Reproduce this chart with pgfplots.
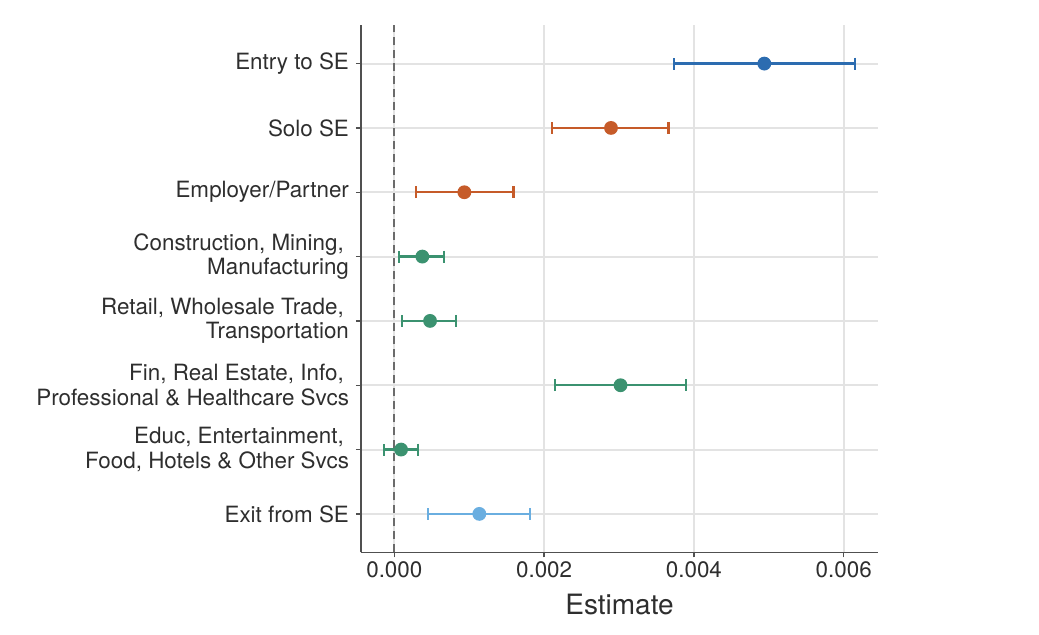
\documentclass[border=0pt]{standalone}
\usepackage{pgfplots}
\pgfplotsset{compat=1.18}
\usepackage{pgfplotstable}
\usepackage{fontspec}
\setmainfont{TeX Gyre Heros}
\definecolor{cblue}{HTML}{2C6CB0}
\definecolor{corange}{HTML}{C65B29}
\definecolor{cgreen}{HTML}{3B9270}
\definecolor{clblue}{HTML}{6AAEE0}
\definecolor{gridc}{HTML}{E3E3E3}
\definecolor{axc}{HTML}{505050}
\definecolor{txt}{HTML}{2E2E2E}

% pos est lo hi
\pgfplotstableread{
pos est lo hi
8 0.00494 0.00373 0.006155
}\entry
\pgfplotstableread{
pos est lo hi
7 0.002893 0.00211 0.00366
6 0.000935 0.000285 0.00159
}\orng
\pgfplotstableread{
pos est lo hi
5 0.000374 0.000067 0.00066
4 0.000477 0.000103 0.000828
3 0.00302 0.00214 0.003895
2 0.00009 -0.00014 0.000316
}\grn
\pgfplotstableread{
pos est lo hi
1 0.001135 0.000454 0.00181
}\exitt

\pgfplotsset{ci/.style={only marks, mark=*, mark size=2.9pt, line width=1.1pt,
  error bars/.cd, x dir=both, x explicit, error bar style={line width=1.1pt}, error mark=|, error mark options={mark size=3pt, line width=1.1pt}}}

\begin{document}
\begin{tikzpicture}
\path[use as bounding box] (0,0) rectangle (519.5pt,317.5pt);
\begin{axis}[
  at={(180.5pt,41.25pt)}, anchor=south west,
  scale only axis, width=258.5pt, height=263.75pt,
  xmin=-0.000445, xmax=0.006458, ymin=0.4, ymax=8.6,
  scaled x ticks=false,
  xtick={0,0.002,0.004,0.006},
  xticklabels={0.000,0.002,0.004,0.006},
  ytick={1,2,3,4,5,6,7,8},
  yticklabels={{Exit from SE},{Educ, Entertainment,\kern2.6pt\\Food, Hotels \& Other Svcs},{Fin, Real Estate, Info,\kern2.6pt\\Professional \& Healthcare Svcs},{Retail, Wholesale Trade,\kern2.6pt\\Transportation},{Construction, Mining,\kern2.6pt\\Manufacturing},{Employer/Partner},{Solo SE},{Entry to SE}},
  yticklabel style={align=right, font=\fontsize{11.2}{12.3}\selectfont, text=txt},
  xticklabel style={font=\fontsize{11.2}{12}\selectfont, text=txt, yshift=1.5pt},
  xlabel={Estimate},
  xlabel style={font=\fontsize{14}{15}\selectfont, text=txt, yshift=-1.5pt},
  axis x line*=bottom, axis y line*=left,
  axis line style={color=axc, line width=0.9pt, -},
  tick align=outside, major tick length=2.5pt,
  tick style={color=axc, line width=0.7pt},
  xmajorgrids, ymajorgrids,
  grid style={color=gridc, line width=1pt},
  clip=false,
]
\addplot[color=black!58, line width=1pt, dash pattern=on 4pt off 2.5pt, forget plot] coordinates {(0,0.4) (0,8.6)};
\addplot[color=cblue, ci] table[x=est, y=pos, x error plus expr=\thisrow{hi}-\thisrow{est}, x error minus expr=\thisrow{est}-\thisrow{lo}] {\entry};
\addplot[color=corange, ci] table[x=est, y=pos, x error plus expr=\thisrow{hi}-\thisrow{est}, x error minus expr=\thisrow{est}-\thisrow{lo}] {\orng};
\addplot[color=cgreen, ci] table[x=est, y=pos, x error plus expr=\thisrow{hi}-\thisrow{est}, x error minus expr=\thisrow{est}-\thisrow{lo}] {\grn};
\addplot[color=clblue, ci] table[x=est, y=pos, x error plus expr=\thisrow{hi}-\thisrow{est}, x error minus expr=\thisrow{est}-\thisrow{lo}] {\exitt};
\end{axis}
\end{tikzpicture}
\end{document}
